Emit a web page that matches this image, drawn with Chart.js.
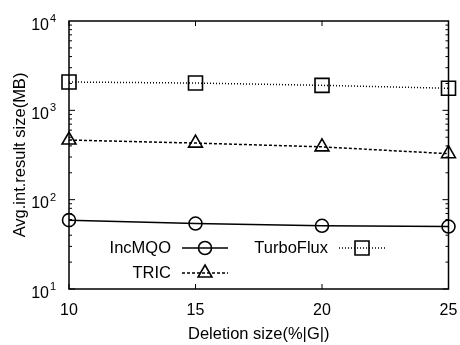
<!DOCTYPE html>
<html>
<head>
<meta charset="utf-8">
<script src="https://cdn.jsdelivr.net/npm/chart.js@4.4.1/dist/chart.umd.min.js"></script>
<style>
  html, body { margin: 0; padding: 0; background: #fff; }
  #wrap { width: 460px; height: 345px; }
</style>
</head>
<body>
<div id="wrap"><canvas id="myChart" width="460" height="345"></canvas></div>
<script>
//the data
const deletionSizes = [10, 15, 20, 25]
const incMQO = [59, 54, 51, 50]
const tric = [465, 430, 390, 327]
const turboFlux = [2075, 2020, 1905, 1765]
const yTickValues = [10, 100, 1000, 10000]

const FONT = '"Liberation Sans", Arial, Helvetica, sans-serif'
const ctx = document.getElementById('myChart').getContext('2d')

//legend entries, drawn by hand to get the two-column layout
const legendItems = [
  { text: 'IncMQO', textX: 171, y: 248, x0: 182, x1: 228, style: 'circle', dash: [] },
  { text: 'TRIC', textX: 171, y: 273, x0: 182, x1: 228, style: 'triangle', dash: [3, 2] },
  { text: 'TurboFlux', textX: 328, y: 248, x0: 339, x1: 385, style: 'rect', dash: [1, 2] }
]

function drawMarker(c, style, x, y) {
  c.beginPath()
  if (style === 'circle') {
    c.arc(x, y, 6.5, 0, Math.PI * 2)
  } else if (style === 'rect') {
    c.rect(x - 7, y - 7, 14, 14)
  } else {
    const r = 8
    c.moveTo(x, y - r)
    c.lineTo(x + r * 0.866, y + r / 2)
    c.lineTo(x - r * 0.866, y + r / 2)
    c.closePath()
  }
  c.stroke()
}

const framePlugin = {
  id: 'frame',
  afterDraw(chart) {
    const c = chart.ctx
    const a = chart.chartArea
    const xs = chart.scales.x
    const ys = chart.scales.y
    c.save()
    c.strokeStyle = '#000'
    c.fillStyle = '#000'
    c.lineWidth = 1.5
    c.setLineDash([])
    c.strokeRect(a.left, a.top, a.right - a.left, a.bottom - a.top)

    //x ticks, pointing inward
    c.lineWidth = 1
    deletionSizes.forEach(v => {
      const px = xs.getPixelForValue(v)
      c.beginPath()
      c.moveTo(px, a.bottom); c.lineTo(px, a.bottom - 5)
      c.moveTo(px, a.top); c.lineTo(px, a.top + 5)
      c.stroke()
    })

    //y ticks, major and minor on both sides
    for (let d = 10; d < 10000; d *= 10) {
      for (let m = 1; m < 10; m++) {
        const py = ys.getPixelForValue(d * m)
        const len = m === 1 ? 6 : 3
        c.beginPath()
        c.moveTo(a.left, py); c.lineTo(a.left + len, py)
        c.moveTo(a.right, py); c.lineTo(a.right - len, py)
        c.stroke()
      }
    }

    //y tick labels with superscript
    c.textBaseline = 'alphabetic'
    yTickValues.forEach(v => {
      const py = ys.getPixelForValue(v)
      c.font = '16px ' + FONT
      c.textAlign = 'right'
      c.fillText('10', 49, py + 8.5)
      c.font = '11px ' + FONT
      c.textAlign = 'left'
      c.fillText(String(Math.round(Math.log10(v))), 50, py + 1)
    })

    //legend
    c.font = '16.5px ' + FONT
    c.textBaseline = 'middle'
    c.textAlign = 'right'
    legendItems.forEach(it => {
      c.fillText(it.text, it.textX, it.y)
      c.lineWidth = 1.5
      c.setLineDash(it.dash)
      c.beginPath()
      c.moveTo(it.x0, it.y); c.lineTo(it.x1, it.y)
      c.stroke()
      c.setLineDash([])
      c.lineWidth = 1.6
      drawMarker(c, it.style, (it.x0 + it.x1) / 2, it.y)
    })
    c.restore()
  }
}

function series(label, values, style, radius, dash) {
  return {
    label: label,
    data: deletionSizes.map((x, i) => ({ x: x, y: values[i] })),
    borderColor: '#000',
    backgroundColor: 'rgba(0,0,0,0)',
    borderWidth: 1.5,
    borderDash: dash,
    pointStyle: style,
    pointRadius: radius,
    pointBorderWidth: 1.6,
    pointBorderColor: '#000',
    pointBackgroundColor: 'rgba(0,0,0,0)',
    tension: 0,
    clip: false
  }
}

var chart = new Chart(ctx, {
  type: 'line',
  data: {
    datasets: [
      series('IncMQO', incMQO, 'circle', 6.5, []),
      series('TRIC', tric, 'triangle', 8, [3, 2]),
      series('TurboFlux', turboFlux, 'rect', 9.9, [1, 2])
    ]
  },
  options: {
    responsive: false,
    animation: false,
    events: [],
    layout: { padding: { left: 0, right: 9, top: 21, bottom: 0 } },
    plugins: { legend: { display: false }, tooltip: { enabled: false } },
    scales: {
      x: {
        type: 'linear',
        min: 10,
        max: 25,
        afterFit: s => { s.height = 56; s.paddingLeft = 0; s.paddingRight = 0 },
        afterBuildTicks: s => { s.ticks = deletionSizes.map(v => ({ value: v })) },
        grid: { display: false, drawTicks: false },
        border: { display: false },
        ticks: { color: '#000', font: { family: FONT, size: 16 }, padding: 12, maxRotation: 0 },
        title: { display: true, text: 'Deletion size(%|G|)', color: '#000', font: { family: FONT, size: 16.5 }, padding: { top: 0, bottom: 1 } }
      },
      y: {
        type: 'logarithmic',
        min: 10,
        max: 10000,
        afterFit: s => { s.width = 69; s.paddingTop = 0; s.paddingBottom = 0 },
        grid: { display: false, drawTicks: false },
        border: { display: false },
        ticks: { display: false },
        title: { display: true, text: 'Avg.int.result size(MB)', color: '#000', font: { family: FONT, size: 16.5 }, padding: { top: 11, bottom: 0 } }
      }
    }
  },
  plugins: [framePlugin]
})
</script>
</body>
</html>
